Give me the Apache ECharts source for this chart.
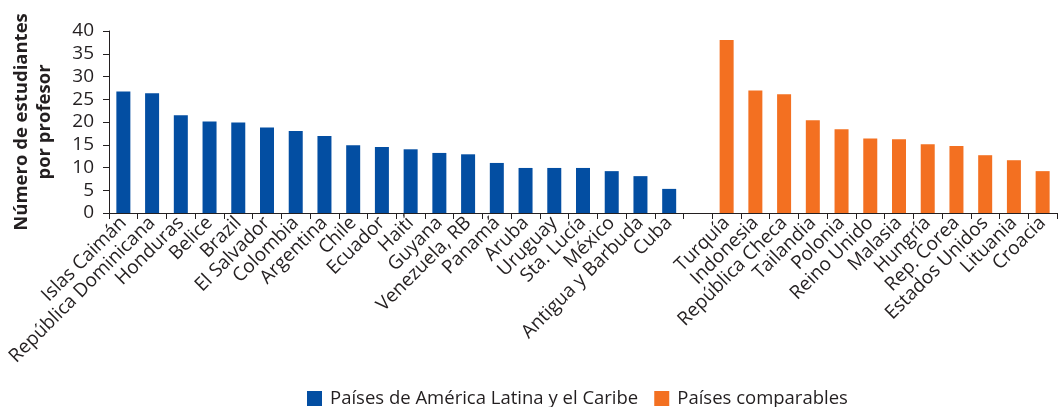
<!DOCTYPE html>
<html>
<head>
<meta charset="utf-8">
<script src="https://cdn.jsdelivr.net/npm/echarts@6/dist/echarts.min.js"></script>
<style>html,body{margin:0;padding:0;background:#fff}#c{width:1059px;height:407px}</style>
</head>
<body>
<div id="c"></div>
<script>
const lacCountries = ["Islas Caimán","República Dominicana","Honduras","Belice","Brazil","El Salvador","Colombia","Argentina","Chile","Ecuador","Haití","Guyana","Venezuela, RB","Panamá","Aruba","Uruguay","Sta. Lucía","México","Antigua y Barbuda","Cuba"];
const lacValues = [26.7,26.3,21.5,20.1,19.9,18.8,18.0,16.9,14.9,14.5,14.0,13.2,12.9,11.0,9.9,9.9,9.9,9.2,8.1,5.3];
const compCountries = ["Turquía","Indonesia","República Checa","Tailandia","Polonia","Reino Unido","Malasia","Hungría","Rep. Corea","Estados Unidos","Lituania","Croacia"];
const compValues = [38.0,26.9,26.1,20.4,18.4,16.4,16.2,15.1,14.7,12.7,11.6,9.2];
const yTicks = [0,5,10,15,20,25,30,35,40];

const categories = lacCountries.concat([""], compCountries);
const lacData = lacValues.concat(new Array(1 + compCountries.length).fill('-'));
const compData = new Array(lacCountries.length + 1).fill('-').concat(compValues);

const FONT = "Open Sans";
const TXT = "#231f20";
const chart = echarts.init(document.getElementById('c'));
chart.setOption({
  animation: false,
  textStyle: {fontFamily: FONT},
  grid: {left: 109, right: 2, top: 31, bottom: 194, containLabel: false, outerBoundsMode: 'none'},
  legend: {
    top: 389, left: 307, padding: 0, itemWidth: 15, itemHeight: 15, itemGap: 16,
    textStyle: {fontFamily: FONT, fontSize: 18.5, color: TXT, padding: [0, 0, 0, 3]},
    data: [
      {name: "Países de América Latina y el Caribe", icon: 'rect'},
      {name: "Países comparables", icon: 'rect'}
    ]
  },
  xAxis: {
    type: 'category', data: categories,
    axisLine: {lineStyle: {color: '#231f20', width: 1}},
    axisTick: {show: true, length: 6, lineStyle: {color: '#231f20'}, alignWithLabel: false},
    axisLabel: {interval: 0, rotate: 45, margin: 7, fontSize: 19, color: TXT, fontFamily: FONT}
  },
  yAxis: {
    type: 'value', min: yTicks[0], max: yTicks[yTicks.length - 1], interval: 5,
    name: "Número de estudiantes\npor profesor",
    nameLocation: 'middle', nameGap: 53,
    nameTextStyle: {fontFamily: FONT, fontSize: 18.5, fontWeight: 'bold', color: TXT, lineHeight: 23},
    axisLine: {show: true, lineStyle: {color: '#231f20'}},
    axisTick: {show: true, length: 6, lineStyle: {color: '#231f20'}},
    splitLine: {show: false},
    axisLabel: {fontSize: 19, color: TXT, margin: 15, fontFamily: FONT}
  },
  series: [
    {name: "Países de América Latina y el Caribe", type: 'bar', data: lacData, barWidth: 14, barGap: '-100%', itemStyle: {color: '#034ea2'}},
    {name: "Países comparables", type: 'bar', data: compData, barWidth: 14, barGap: '-100%', itemStyle: {color: '#f37021'}}
  ]
});
</script>
</body>
</html>
